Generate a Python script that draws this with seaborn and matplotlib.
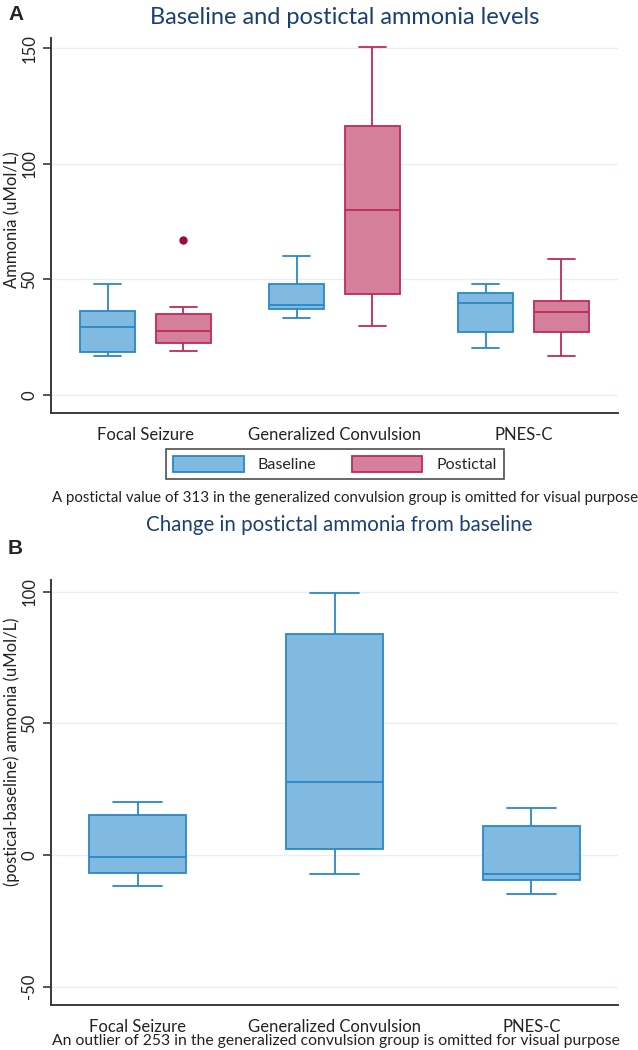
import numpy as np
import pandas as pd
import matplotlib
matplotlib.use("Agg")
import matplotlib.pyplot as plt
from matplotlib.patches import Patch
import seaborn as sns

# ---------------- data ----------------
groups = ["Focal Seizure", "Generalized Convulsion", "PNES-C"]
kinds = ["Baseline", "Postictal"]

# five-number summaries: [lower whisker, Q1, median, Q3, upper whisker]
baseline_stats = [[17.0, 18.5, 29.5, 36.5, 48.0],
                  [33.2, 37.3, 38.8, 48.0, 60.1],
                  [20.2, 27.4, 39.9, 44.0, 48.2]]
postictal_stats = [[19.0, 22.6, 27.8, 35.2, 37.9],
                   [30.0, 43.5, 79.9, 116.5, 150.4],
                   [17.0, 27.4, 36.0, 40.8, 59.0]]
baseline_outliers = [[], [], []]
postictal_outliers = [[67.0], [], []]

change_stats = [[-11.8, -6.8, -0.8, 15.1, 20.0],
                [-7.3, 2.4, 27.8, 83.8, 99.6],
                [-14.9, -9.5, -7.2, 10.9, 17.7]]
change_outliers = [[], [], []]

yticks_a = [0, 50, 100, 150]
yticks_b = [-50, 0, 50, 100]


def sample(stats, outs):
    """Observations whose quartiles / whisker ends equal the summary."""
    lo, q1, med, q3, hi = stats
    return [lo, q1, q1, med, med, q3, q3, hi] + list(outs)


rows = []
for kind, st, ou in [("Baseline", baseline_stats, baseline_outliers),
                     ("Postictal", postictal_stats, postictal_outliers)]:
    for g, s, o in zip(groups, st, ou):
        for v in sample(s, o):
            rows.append({"group": g, "kind": kind, "value": v})
df_a = pd.DataFrame(rows)

rows = []
for g, s, o in zip(groups, change_stats, change_outliers):
    for v in sample(s, o):
        rows.append({"group": g, "value": v})
df_b = pd.DataFrame(rows)

# ---------------- style ----------------
sns.set_style("ticks")
plt.rcParams["font.family"] = ["Lato", "DejaVu Sans"]

BLUE_FILL, BLUE_EDGE = "#80bae1", "#2a88c8"
RED_FILL, RED_EDGE = "#d4809a", "#c02a58"
OUT_COL = "#9e0a36"
TITLE_COL = "#1a3f73"
GRID_COL = "#e7eff1"
SPINE_COL = "#3a3a3a"
TXT = "#222222"

W, H = 638, 1050
fig = plt.figure(figsize=(W / 100, H / 100), dpi=100)


def fx(px):
    return px / W


def fy(py):
    return 1 - py / H


A_TOP, A_BOT, B_TOP, B_BOT, LEFT, RIGHT = 38, 413, 580, 1005, 51, 618
ax_a = fig.add_axes([fx(LEFT), fy(A_BOT), fx(RIGHT) - fx(LEFT), fy(A_TOP) - fy(A_BOT)])
ax_b = fig.add_axes([fx(LEFT), fy(B_BOT), fx(RIGHT) - fx(LEFT), fy(B_TOP) - fy(B_BOT)])

# ---------------- panel A ----------------
pal = {"Baseline": BLUE_FILL, "Postictal": RED_FILL}
for kind, edge in [("Baseline", BLUE_EDGE), ("Postictal", RED_EDGE)]:
    sns.boxplot(data=df_a[df_a["kind"] == kind], x="group", y="value",
                hue="kind", hue_order=kinds, order=groups, palette=pal,
                dodge=True, width=0.8, gap=0.27, saturation=1,
                linecolor=edge, linewidth=1.3, legend=False,
                flierprops=dict(marker="o", markersize=5,
                                markerfacecolor=OUT_COL,
                                markeredgecolor=OUT_COL),
                ax=ax_a)

ax_a.set_xlim(-0.5, 2.5)
ax_a.set_ylim(-7.8, 154.4)

# ---------------- panel B ----------------
sns.boxplot(data=df_b, x="group", y="value", order=groups,
            color=BLUE_FILL, saturation=1, width=0.495,
            linecolor=BLUE_EDGE, linewidth=1.3, ax=ax_b)
ax_b.set_xlim(-0.44, 2.44)
ax_b.set_ylim(-57.0, 104.4)

label_y = {id(ax_a): (A_BOT - 220) / (A_BOT - A_TOP),
           id(ax_b): (B_BOT - 752) / (B_BOT - B_TOP)}
for ax, yt, ylab in [(ax_a, yticks_a, "Ammonia (uMol/L)"),
                     (ax_b, yticks_b, "(postical-baseline) ammonia (uMol/L)")]:
    ax.set_yticks(yt)
    ax.set_yticklabels([str(v) for v in yt], rotation=90, va="center",
                       fontsize=12, color=TXT)
    ax.tick_params(axis="y", length=6, width=1.2, color=SPINE_COL, pad=4)
    ax.tick_params(axis="x", length=0, pad=10, labelsize=12,
                   labelcolor=TXT)
    ax.set_xlabel("")
    ax.set_ylabel(ylab, fontsize=12, color=TXT)
    ax.yaxis.set_label_coords((20 - LEFT) / (RIGHT - LEFT), label_y[id(ax)])
    ax.yaxis.grid(True, color=GRID_COL, lw=1.0)
    ax.set_axisbelow(True)
    sns.despine(ax=ax, top=True, right=True)
    for sp in ("left", "bottom"):
        ax.spines[sp].set_color(SPINE_COL)
        ax.spines[sp].set_linewidth(1.4)

# ---------------- legend ----------------
handles = [Patch(facecolor=BLUE_FILL, edgecolor=BLUE_EDGE, lw=1.3, label="Baseline"),
           Patch(facecolor=RED_FILL, edgecolor=RED_EDGE, lw=1.3, label="Postictal")]
leg = fig.legend(handles=handles, loc="center", ncol=2,
                 bbox_to_anchor=(fx(335), fy(464)), fontsize=11.5,
                 frameon=True, fancybox=False, edgecolor=TXT,
                 handlelength=4.4, handleheight=1.2, handletextpad=0.9,
                 columnspacing=2.2, borderpad=0.45)
leg.get_frame().set_linewidth(1.2)

# ---------------- texts ----------------
fig.text(fx(345), fy(17), "Baseline and postictal ammonia levels",
         ha="center", va="center", fontsize=17, color=TITLE_COL)
fig.text(fx(339), fy(525), "Change in postictal ammonia from baseline",
         ha="center", va="center", fontsize=14.8, color=TITLE_COL)
fig.text(fx(8), fy(14), "A", ha="left", va="center", fontsize=15,
         fontweight="bold", family=["Liberation Sans", "DejaVu Sans"])
fig.text(fx(8), fy(549), "B", ha="left", va="center", fontsize=15,
         fontweight="bold", family=["Liberation Sans", "DejaVu Sans"])
fig.text(fx(345), fy(498),
         "A postictal value of 313 in the generalized convulsion group is omitted for visual purpose",
         ha="center", va="center", fontsize=10.8, color=TXT)
fig.text(fx(336), fy(1041),
         "An outlier of 253 in the generalized convulsion group is omitted for visual purpose",
         ha="center", va="center", fontsize=11.3, color=TXT)

fig.savefig("out.png", dpi=100)
